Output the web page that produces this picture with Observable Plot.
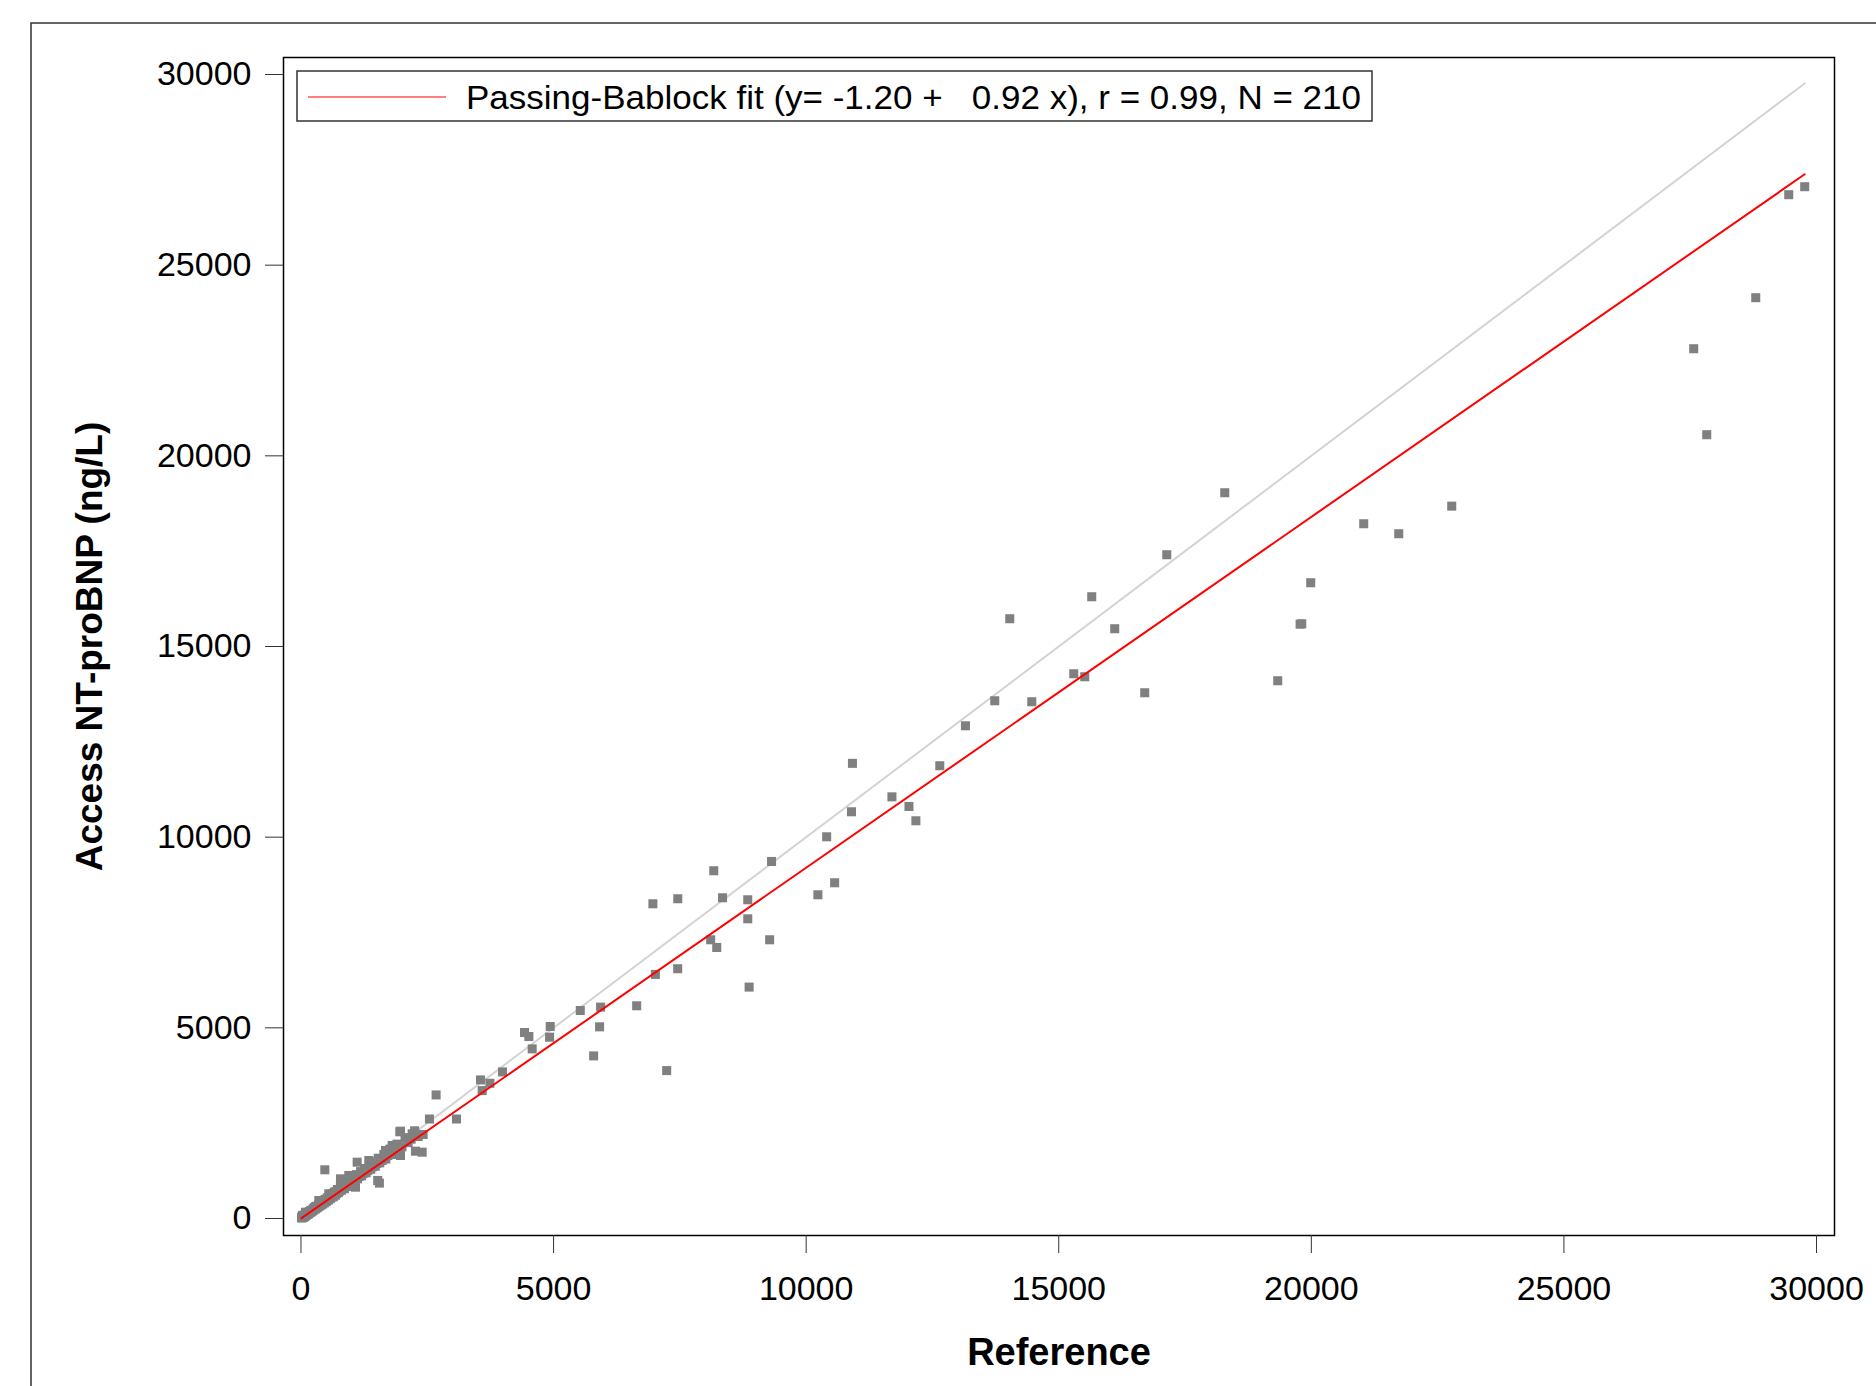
<!DOCTYPE html>
<html>
<head>
<meta charset="utf-8">
<script src="https://cdn.jsdelivr.net/npm/d3@7"></script>
<script src="https://cdn.jsdelivr.net/npm/@observablehq/plot@0.6"></script>
<style>
  html, body { margin: 0; padding: 0; background: #fff; }
  #chart svg { display: block; }
</style>
</head>
<body>
<div id="chart"></div>
<script>
// Reference (x) and Access NT-proBNP (y), ng/L
const refX = [
  29766, 29450, 28797, 27569, 27827, 22779, 21730, 21037, 19988, 19778,
  19810, 19335, 18286, 17138, 16702, 16108, 15653, 15515, 15297, 14466,
  14030, 13733, 13153, 12645, 12172, 12035, 11698, 10916, 10897, 10564,
  10406, 10232, 9315, 9277, 8871, 8844, 8844, 8345, 8230, 8171,
  8110, 7459, 7457, 7239, 7015, 6966, 6645, 5931, 5911, 5793,
  5529, 4934, 4921, 4577, 4511, 4425, 3989, 3739, 3587, 3554,
  3078, 2675, 2543,
  472, 1552, 1519, 1956, 2233, 2418, 2399, 2266, 2201, 1970,
  1970, 1805, 1673, 1607, 1343, 1112, 946, 782, 1079, 551,
  353, 89, 30,
  15, 25, 40, 50, 60, 75, 90, 100, 110, 125,
  140, 150, 165, 180, 195, 210, 220, 240, 255, 270,
  285, 300, 315, 330, 350, 365, 380, 395, 410, 430,
  445, 460, 480, 500, 520, 540, 560, 580, 600, 620,
  640, 660, 680, 700, 720, 740, 760, 780, 800, 820,
  840, 860, 880, 900, 920, 940, 960, 980, 1000, 1020,
  1050, 1070, 1100, 1120, 1150, 1180, 1200, 1230, 1260, 1290,
  1320, 1350, 1380, 1410, 1440, 1470, 1500, 1530, 1560, 1600,
  1640, 1680, 1720, 1760, 1800, 1850, 1900, 1940, 2000, 2060,
  2120, 2180, 2250, 2320,
  10, 30, 55, 70, 85, 105, 130, 160, 190, 230,
  260, 290, 320, 345, 375, 400, 425, 455, 490, 530,
  570, 610, 650, 690, 730, 770, 830, 870, 910
];
const accessY = [
  27058, 26848, 24147, 22809, 20554, 18681, 17957, 18219, 16672, 15586,
  15596, 14102, 19032, 17406, 13787, 15466, 16305, 14207, 14285, 13551,
  15728, 13577, 12921, 11873, 10430, 10805, 11057, 11936, 10666, 8804,
  10010, 8489, 9363, 7309, 6068, 8358, 7859, 8411, 7107, 9119,
  7309, 8385, 6550, 3879, 6401, 8253, 5578, 5543, 5026, 4264,
  5455, 5035, 4755, 4448, 4772, 4877, 3844, 3546, 3354, 3634,
  2609, 3240, 2609,
  1277, 928, 997, 2274, 2203, 2203, 1739, 1765, 2221, 2290,
  1652, 1915, 1783, 1521, 1521, 1477, 1128, 1041, 821, 648,
  472, 165, 79,
  40, 20, 60, 30, 75, 55, 100, 80, 130, 105,
  150, 120, 180, 160, 170, 215, 190, 250, 225, 290,
  250, 320, 280, 300, 360, 330, 400, 350, 420, 380,
  470, 410, 500, 440, 540, 480, 590, 520, 560, 650,
  570, 690, 610, 650, 760, 680, 720, 820, 740, 790,
  880, 780, 850, 940, 840, 900, 1000, 910, 960, 1080,
  980, 1030, 1150, 1040, 1100, 1230, 1120, 1180, 1310, 1200,
  1260, 1400, 1290, 1350, 1480, 1370, 1440, 1580, 1460, 1540,
  1680, 1560, 1650, 1820, 1680, 1780, 1950, 1810, 1880, 2120,
  1990, 2080, 2300, 2150,
  15, 45, 50, 90, 70, 115, 120, 150, 205, 210,
  270, 300, 310, 320, 380, 390, 440, 440, 470, 510,
  560, 600, 620, 700, 710, 750, 820, 870, 890
];
const xTicks = [0, 5000, 10000, 15000, 20000, 25000, 30000];
const yTicks = [0, 5000, 10000, 15000, 20000, 25000, 30000];
const fitIntercept = -1.20;
const fitSlope = 0.92;
const legendText = "Passing-Bablock fit (y= -1.20 +   0.92 x), r = 0.99, N = 210";
const xLabel = "Reference";
const yLabel = "Access NT-proBNP (ng/L)";

const points = refX.map((x, i) => ({x, y: accessY[i]}));
const [xmin, xmax] = d3.extent(refX);
const identity = [{x: xmin, y: xmin}, {x: xmax, y: xmax}];
const fit = [xmin, xmax].map(x => ({x, y: fitIntercept + fitSlope * x}));

const W = 1876, H = 1386;
const mL = 283, mT = 57, mR = 42, mB = 151;

const plot = Plot.plot({
  width: W,
  height: H,
  marginLeft: mL,
  marginTop: mT,
  marginRight: mR,
  marginBottom: mB,
  style: {fontFamily: "'Liberation Sans', Arial, sans-serif", fontSize: "33px", background: "#fff", color: "#000"},
  x: {domain: [-346, 30356]},
  y: {domain: [-446, 30446]},
  marks: [
    Plot.line(identity, {x: "x", y: "y", stroke: "#d3d3d3", strokeWidth: 2}),
    Plot.dot(points, {x: "x", y: "y", symbol: "square", r: 5.1, fill: "#808080", stroke: "none"}),
    Plot.line(fit, {x: "x", y: "y", stroke: "#ff0000", strokeWidth: 2}),
    Plot.frame({stroke: "#000", strokeWidth: 1.5}),
    Plot.axisX({ticks: xTicks, tickSize: 18, tickPadding: 22, tickFormat: d3.format("d"), label: null, fontSize: 34, stroke: "#333"}),
    Plot.axisY({ticks: yTicks, tickSize: 18, tickPadding: 14, tickFormat: d3.format("d"), label: null, fontSize: 34, stroke: "#333"}),
    Plot.text([xLabel], {frameAnchor: "bottom", dy: 117, text: d => d, fontSize: 38, fontWeight: "bold", lineAnchor: "middle", textAnchor: "middle"}),
    Plot.text([yLabel], {frameAnchor: "left", dx: -193, text: d => d, fontSize: 37, fontWeight: "bold", rotate: -90, lineAnchor: "middle", textAnchor: "middle"})
  ]
});

// outer border (clipped by the image edges in the original)
const svg = d3.select(plot);
svg.append("path")
  .attr("d", `M31,${H + 5} L31,23 L${W + 5},23`)
  .attr("fill", "none").attr("stroke", "#333").attr("stroke-width", 1.5);

// legend box
const lg = svg.append("g");
lg.append("rect").attr("x", mL + 14).attr("y", 71).attr("width", 1075).attr("height", 50)
  .attr("fill", "#fff").attr("stroke", "#333").attr("stroke-width", 1.5);
lg.append("line").attr("x1", mL + 25).attr("x2", mL + 163).attr("y1", 97).attr("y2", 97)
  .attr("stroke", "#ff0000").attr("stroke-width", 1.2);
lg.append("text").attr("x", mL + 183).attr("y", 109)
  .attr("font-size", 34).attr("fill", "#000")
  .attr("text-anchor", "start")
  .style("white-space", "pre")
  .attr("textLength", 895).attr("lengthAdjust", "spacingAndGlyphs")
  .text(legendText);

document.getElementById("chart").appendChild(plot);
</script>
</body>
</html>
